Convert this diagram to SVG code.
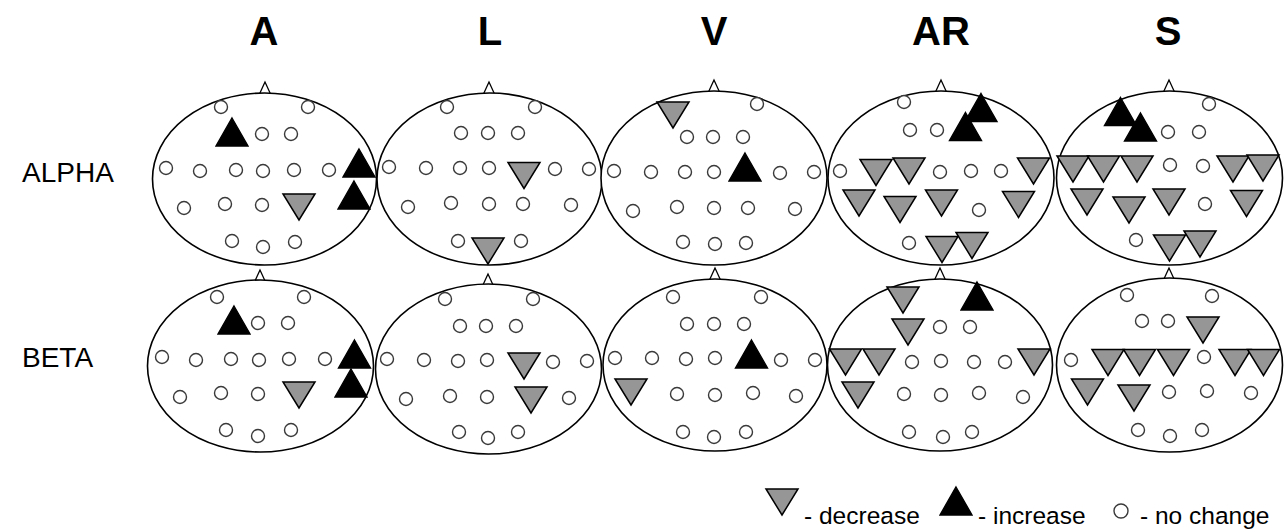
<svg xmlns="http://www.w3.org/2000/svg" xmlns:xlink="http://www.w3.org/1999/xlink" width="1285" height="532" viewBox="0 0 1285 532">
  <style>
    .head { fill: #ffffff; stroke: #000000; stroke-width: 1.6; }
    .nose { fill: #ffffff; stroke: #000000; stroke-width: 1.3; }
    .nc { fill: #ffffff; stroke: #3a3a3a; stroke-width: 1.4; }
    .up { fill: #000000; stroke: #000000; stroke-width: 1.4; stroke-linejoin: miter; }
    .dn { fill: #969696; stroke: #000000; stroke-width: 1.5; stroke-linejoin: miter; }
    .title { font-family: "Liberation Sans", Arial, sans-serif; font-weight: bold; font-size: 40px; fill: #000000; text-anchor: middle; }
    .band { font-family: "Liberation Sans", Arial, sans-serif; font-size: 28px; fill: #000000; }
    .key { font-family: "Liberation Sans", Arial, sans-serif; font-size: 24.5px; fill: #000000; }
  </style>
  <defs>
    <!-- electrode markers, drawn about their own centre -->
    <circle id="o" class="nc" cx="0" cy="0" r="6.5"/>
    <polygon id="up" class="up" points="0,-14 16,14 -16,14"/>
    <polygon id="dn" class="dn" points="-16,-13 16,-13 0,13"/>
  </defs>

  <!-- column headings -->
  <g id="headings">
    <text class="title" x="264" y="45">A</text>
    <text class="title" x="490" y="45">L</text>
    <text class="title" x="714" y="45">V</text>
    <text class="title" x="941" y="45">AR</text>
    <text class="title" x="1168" y="45">S</text>
  </g>

  <!-- band labels -->
  <g id="bands">
    <text class="band" x="22" y="182">ALPHA</text>
    <text class="band" x="22" y="367">BETA</text>
  </g>

  <!-- ===== ALPHA row ===== -->
  <g id="alpha-A">
    <polygon class="nose" points="265,82 259,95 271,95"/>
    <ellipse class="head" cx="264.5" cy="179" rx="112" ry="86"/>
    <use href="#o" x="221" y="107"/><use href="#o" x="308" y="107"/>
    <use href="#up" x="232" y="132"/>
    <use href="#o" x="262" y="134"/><use href="#o" x="291" y="134"/>
    <use href="#o" x="166" y="168"/><use href="#o" x="200" y="171"/><use href="#o" x="236" y="170"/>
    <use href="#o" x="263" y="171"/><use href="#o" x="294" y="170"/><use href="#o" x="329" y="170"/>
    <use href="#up" x="359" y="163"/>
    <use href="#up" x="354" y="195"/>
    <use href="#o" x="184" y="208"/><use href="#o" x="225" y="204"/><use href="#o" x="262" y="205"/>
    <use href="#dn" x="299" y="207"/>
    <use href="#o" x="232" y="241"/><use href="#o" x="263" y="247"/><use href="#o" x="295" y="242"/>
  </g>

  <g id="alpha-L">
    <polygon class="nose" points="489,82 483,95 495,95"/>
    <ellipse class="head" cx="489.5" cy="179" rx="112.5" ry="86"/>
    <use href="#o" x="447" y="107"/><use href="#o" x="535" y="107"/>
    <use href="#o" x="461" y="133"/><use href="#o" x="488" y="133"/><use href="#o" x="518" y="133"/>
    <use href="#o" x="389" y="167"/><use href="#o" x="426" y="168"/><use href="#o" x="460" y="168"/>
    <use href="#o" x="489" y="168"/>
    <use href="#dn" x="524" y="175.5"/>
    <use href="#o" x="555" y="169"/><use href="#o" x="589" y="169"/>
    <use href="#o" x="408" y="207"/><use href="#o" x="451" y="203"/><use href="#o" x="489" y="204"/>
    <use href="#o" x="523" y="204"/><use href="#o" x="571" y="205"/>
    <use href="#o" x="458" y="241"/>
    <use href="#dn" x="488" y="251"/>
    <use href="#o" x="521" y="241"/>
  </g>

  <g id="alpha-V">
    <polygon class="nose" points="714,80 708,93 720,93"/>
    <ellipse class="head" cx="714" cy="178" rx="113" ry="87"/>
    <use href="#dn" x="673" y="115"/>
    <use href="#o" x="757" y="104"/>
    <use href="#o" x="687" y="137"/><use href="#o" x="713" y="137"/><use href="#o" x="743" y="137"/>
    <use href="#o" x="614" y="171"/><use href="#o" x="651" y="172"/><use href="#o" x="685" y="172"/>
    <use href="#o" x="714" y="172"/>
    <use href="#up" x="745" y="167"/>
    <use href="#o" x="780" y="173"/><use href="#o" x="814" y="172"/>
    <use href="#o" x="633" y="211"/><use href="#o" x="677" y="207"/><use href="#o" x="714" y="208"/>
    <use href="#o" x="748" y="208"/><use href="#o" x="795" y="209"/>
    <use href="#o" x="683" y="242"/><use href="#o" x="715" y="244"/><use href="#o" x="746" y="243"/>
  </g>

  <g id="alpha-AR">
    <polygon class="nose" points="941,80 935,93 947,93"/>
    <ellipse class="head" cx="941" cy="178" rx="113" ry="87"/>
    <use href="#o" x="904" y="102"/>
    <use href="#up" x="981" y="107.5"/>
    <use href="#up" x="965.5" y="126.5"/>
    <use href="#o" x="910" y="130"/><use href="#o" x="937" y="130"/>
    <use href="#o" x="840" y="171"/>
    <use href="#dn" x="876" y="172.5"/>
    <use href="#dn" x="909" y="171"/>
    <use href="#o" x="940" y="172"/><use href="#o" x="971" y="171"/><use href="#o" x="1001" y="171"/>
    <use href="#dn" x="1033.5" y="171"/>
    <use href="#dn" x="859" y="203"/>
    <use href="#dn" x="900" y="209.5"/>
    <use href="#dn" x="941.5" y="203"/>
    <use href="#o" x="979" y="210"/>
    <use href="#dn" x="1018.5" y="204.5"/>
    <use href="#o" x="909" y="243"/>
    <use href="#dn" x="942" y="249.5"/>
    <use href="#dn" x="972" y="245.5"/>
  </g>

  <g id="alpha-S">
    <polygon class="nose" points="1169,80 1163,93 1175,93"/>
    <ellipse class="head" cx="1169.5" cy="178" rx="113" ry="87"/>
    <use href="#up" x="1120.5" y="111.5"/>
    <use href="#up" x="1140.5" y="127"/>
    <use href="#o" x="1209" y="104"/>
    <use href="#o" x="1168" y="132"/><use href="#o" x="1199" y="132"/>
    <use href="#dn" x="1073" y="169"/>
    <use href="#dn" x="1103.5" y="169"/>
    <use href="#dn" x="1137" y="169"/>
    <use href="#o" x="1170" y="165"/><use href="#o" x="1203" y="166"/>
    <use href="#dn" x="1233" y="169"/>
    <use href="#dn" x="1263" y="168"/>
    <use href="#dn" x="1087" y="202"/>
    <use href="#dn" x="1129" y="210"/>
    <use href="#dn" x="1169" y="202"/>
    <use href="#o" x="1205" y="204"/>
    <use href="#dn" x="1246.5" y="203.5"/>
    <use href="#o" x="1136" y="240"/>
    <use href="#dn" x="1169.5" y="248"/>
    <use href="#dn" x="1200" y="244"/>
  </g>

  <!-- ===== BETA row ===== -->
  <g id="beta-A">
    <polygon class="nose" points="260,270 254,283 266,283"/>
    <ellipse class="head" cx="260.5" cy="366" rx="113" ry="86"/>
    <use href="#o" x="217" y="297"/><use href="#o" x="304" y="297"/>
    <use href="#up" x="234" y="320"/>
    <use href="#o" x="258" y="323"/><use href="#o" x="288" y="323"/>
    <use href="#o" x="162" y="357"/><use href="#o" x="196" y="360"/><use href="#o" x="231" y="359"/>
    <use href="#o" x="259" y="360"/><use href="#o" x="289" y="359"/><use href="#o" x="325" y="359"/>
    <use href="#up" x="354.5" y="354"/>
    <use href="#up" x="351" y="383"/>
    <use href="#o" x="180" y="397"/><use href="#o" x="221" y="393"/><use href="#o" x="258" y="394"/>
    <use href="#dn" x="299" y="395"/>
    <use href="#o" x="226" y="430"/><use href="#o" x="258" y="436"/><use href="#o" x="291" y="430"/>
  </g>

  <g id="beta-L">
    <polygon class="nose" points="488,274 482,287 494,287"/>
    <ellipse class="head" cx="488.5" cy="369" rx="113" ry="85"/>
    <use href="#o" x="445" y="299"/><use href="#o" x="533" y="299"/>
    <use href="#o" x="460" y="326"/><use href="#o" x="486" y="326"/><use href="#o" x="516" y="326"/>
    <use href="#o" x="387" y="359"/><use href="#o" x="424" y="360"/><use href="#o" x="458" y="361"/>
    <use href="#o" x="487" y="360"/>
    <use href="#dn" x="524" y="366"/>
    <use href="#o" x="553" y="362"/><use href="#o" x="587" y="361"/>
    <use href="#o" x="406" y="399"/><use href="#o" x="450" y="396"/><use href="#o" x="487" y="397"/>
    <use href="#dn" x="531" y="400"/>
    <use href="#o" x="569" y="398"/>
    <use href="#o" x="459" y="432"/><use href="#o" x="488" y="438"/><use href="#o" x="518" y="432"/>
  </g>

  <g id="beta-V">
    <polygon class="nose" points="715,268 709,281 721,281"/>
    <ellipse class="head" cx="715" cy="365" rx="112" ry="86"/>
    <use href="#o" x="673" y="297"/><use href="#o" x="761" y="297"/>
    <use href="#o" x="687" y="324"/><use href="#o" x="714" y="324"/><use href="#o" x="744" y="324"/>
    <use href="#o" x="615" y="358"/><use href="#o" x="652" y="358"/><use href="#o" x="686" y="359"/>
    <use href="#o" x="715" y="358"/>
    <use href="#up" x="751.5" y="354"/>
    <use href="#o" x="781" y="360"/><use href="#o" x="815" y="360"/>
    <use href="#dn" x="631" y="392"/>
    <use href="#o" x="677" y="394"/><use href="#o" x="715" y="395"/><use href="#o" x="753" y="393"/>
    <use href="#o" x="796" y="396"/>
    <use href="#o" x="683" y="432"/><use href="#o" x="714" y="437"/><use href="#o" x="746" y="432"/>
  </g>

  <g id="beta-AR">
    <polygon class="nose" points="940,268 934,281 946,281"/>
    <ellipse class="head" cx="940" cy="365" rx="112.5" ry="86"/>
    <use href="#dn" x="903" y="300"/>
    <use href="#up" x="977" y="296"/>
    <use href="#dn" x="908" y="332"/>
    <use href="#o" x="940" y="327"/><use href="#o" x="970" y="327"/>
    <use href="#dn" x="845.5" y="362"/>
    <use href="#dn" x="879" y="362"/>
    <use href="#o" x="912" y="362"/><use href="#o" x="941" y="361"/><use href="#o" x="974" y="362"/>
    <use href="#o" x="1005" y="362"/>
    <use href="#dn" x="1034" y="362"/>
    <use href="#dn" x="858" y="395"/>
    <use href="#o" x="904" y="394"/><use href="#o" x="941" y="395"/><use href="#o" x="979" y="393"/>
    <use href="#o" x="1023" y="397"/>
    <use href="#o" x="909" y="432"/><use href="#o" x="943" y="437"/><use href="#o" x="972" y="432"/>
  </g>

  <g id="beta-S">
    <polygon class="nose" points="1169,268 1163,281 1175,281"/>
    <ellipse class="head" cx="1169.5" cy="365" rx="113" ry="87"/>
    <use href="#o" x="1127" y="295"/><use href="#o" x="1212" y="296"/>
    <use href="#o" x="1142" y="321"/><use href="#o" x="1168" y="321"/>
    <use href="#dn" x="1203" y="330"/>
    <use href="#o" x="1071" y="360"/>
    <use href="#dn" x="1108" y="362.5"/>
    <use href="#dn" x="1139.5" y="362.5"/>
    <use href="#dn" x="1173.5" y="362.5"/>
    <use href="#o" x="1204" y="357"/>
    <use href="#dn" x="1235" y="362.5"/>
    <use href="#dn" x="1263.5" y="362.5"/>
    <use href="#dn" x="1087.5" y="392"/>
    <use href="#dn" x="1134" y="398"/>
    <use href="#o" x="1169" y="392"/><use href="#o" x="1207" y="391"/><use href="#o" x="1251" y="393"/>
    <use href="#o" x="1138" y="430"/><use href="#o" x="1170" y="436"/><use href="#o" x="1202" y="430"/>
  </g>

  <!-- key -->
  <g id="key">
    <use href="#dn" x="782" y="502"/>
    <text class="key" x="804" y="524">- decrease</text>
    <use href="#up" x="956" y="501"/>
    <text class="key" x="978" y="524">- increase</text>
    <circle class="nc" cx="1121" cy="511" r="7"/>
    <text class="key" x="1140" y="524">- no change</text>
  </g>
</svg>
